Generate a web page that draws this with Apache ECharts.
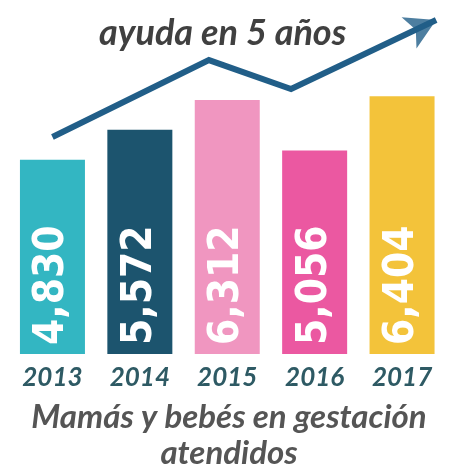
<!DOCTYPE html>
<html><head><meta charset="utf-8">
<script src="https://cdn.jsdelivr.net/npm/echarts@6/dist/echarts.min.js"></script>
<style>html,body{margin:0;padding:0;background:#fff}#c{width:458px;height:473px}</style>
</head><body><div id="c"></div>
<script>
const years = ['2013','2014','2015','2016','2017'];
const values = [4830, 5572, 6312, 5056, 6404];
const barColors = ['#33b6c2','#1c546e','#f096c0','#eb58a1','#f3c33a'];
const trendX = [0, 1.79, 2.73, 4.39];
const trendY = [5393, 7306, 6585, 8300];
const titleTop = 'ayuda en 5 años';
const titleBottom = 'Mamás y bebés en gestación\natendidos';

const chart = echarts.init(document.getElementById('c'), null, {renderer:'canvas'});
const option = {
  animation:false,
  title:[
    {text:titleTop, left:94, top:10, textStyle:{fontFamily:'Lato', fontStyle:'italic', fontWeight:'bold', fontSize:36, color:'#404040'}},
    {text:titleBottom, left:'center', top:394, textStyle:{fontFamily:'Lato', fontStyle:'italic', fontWeight:'bold', fontSize:33, lineHeight:36, color:'#555555'}}
  ],
  grid:{left:8.75, right:12.25, top:8, bottom:119},
  xAxis:[
    {type:'category', data:years, axisLine:{show:false}, axisTick:{show:false},
     axisLabel:{margin:11, fontFamily:'Lato', fontStyle:'italic', fontWeight:'bold', fontSize:26, color:'#2e5a64'}},
    {type:'value', min:-0.5, max:4.5, show:false}
  ],
  yAxis:{type:'value', min:0, max:8600, show:false},
  series:[
    {type:'bar', xAxisIndex:0, barWidth:65,
     data: values.map((v,i)=>({value:v, itemStyle:{color:barColors[i]}})),
     label:{show:true, position:'insideBottom', rotate:90, align:'left', verticalAlign:'middle', distance:9,
       formatter:p=>p.value.toLocaleString('en-US'),
       fontFamily:'DejaVu Sans Condensed', fontWeight:'bold', fontSize:42, color:'#ffffff'}},
    {type:'line', xAxisIndex:1, yAxisIndex:0, symbol:'none', clip:false,
     lineStyle:{color:'#215e88', width:6, cap:'butt', join:'miter'},
     data: trendX.map((x,i)=>[x, trendY[i]])},
    {type:'scatter', xAxisIndex:1, yAxisIndex:0, clip:false, symbol:'arrow', symbolSize:[26,30],
     symbolRotate:0, itemStyle:{color:'#215e88'},
     data:[[trendX[3], trendY[3]]]}
  ]
};
chart.setOption(option);
// orient the arrowhead along the last trend segment (pixel space)
const n = trendX.length;
const a = chart.convertToPixel({xAxisIndex:1, yAxisIndex:0}, [trendX[n-2], trendY[n-2]]);
const b = chart.convertToPixel({xAxisIndex:1, yAxisIndex:0}, [trendX[n-1], trendY[n-1]]);
const ang = Math.atan2(a[1]-b[1], b[0]-a[0]) * 180 / Math.PI; // counterclockwise from +x
chart.setOption({series:[{},{},{symbolRotate: ang - 90}]});
</script></body></html>
